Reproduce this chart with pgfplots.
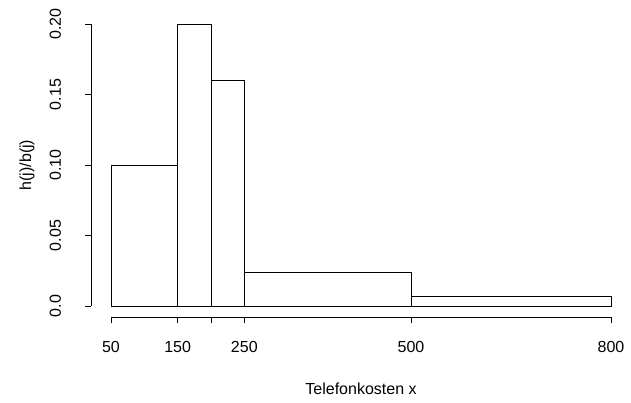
\documentclass[border=0pt]{standalone}
\usepackage{pgfplots}
\pgfplotsset{compat=1.18}
\usepackage{fontspec}
\setmainfont{Liberation Sans}
\begin{document}
\begin{tikzpicture}
\useasboundingbox (0,0) rectangle (631bp,-403bp);
\begin{axis}[
  at={(91bp,-317.3bp)}, anchor=south west,
  scale only axis, width=540bp, height=304.6bp,
  xmin=20, xmax=830, ymin=-0.008, ymax=0.208,
  clip=false,
  axis line style={draw=none},
  xtick pos=bottom, ytick pos=left,
  tick align=outside, major tick length=6bp,
  tick style={black, line width=0.9bp},
  xtick={50,150,200,250,500,800},
  xticklabels={50,150,,250,500,800},
  ytick={0,0.05,0.1,0.15,0.2},
  yticklabels={0.0,0.05,0.10,0.15,0.20},
  xticklabel style={font=\fontsize{16bp}{19bp}\selectfont, anchor=base, yshift=-29bp},
  yticklabel style={font=\fontsize{16bp}{19bp}\selectfont, xshift=-24bp, rotate=90, anchor=base},
  every axis x label/.style={at={(axis description cs:0.5,-0.255)}, anchor=base, font=\fontsize{16bp}{19bp}\selectfont},
  every axis y label/.style={at={(axis description cs:-0.1111,0.5)}, rotate=90, anchor=base, font=\fontsize{16bp}{19bp}\selectfont},
  xlabel={Telefonkosten x},
  ylabel={h(j)/b(j)},
]
\addplot[ybar interval, draw=black, fill=none, line width=0.9bp] coordinates {
  (50,0.10) (150,0.20) (200,0.16) (250,0.024) (500,0.006667) (800,0.006667)
};
\draw[line width=0.9bp] (axis cs:50,-0.008) -- (axis cs:800,-0.008);
\draw[line width=0.9bp] (axis cs:20,0) -- (axis cs:20,0.2);
\end{axis}
\end{tikzpicture}
\end{document}
